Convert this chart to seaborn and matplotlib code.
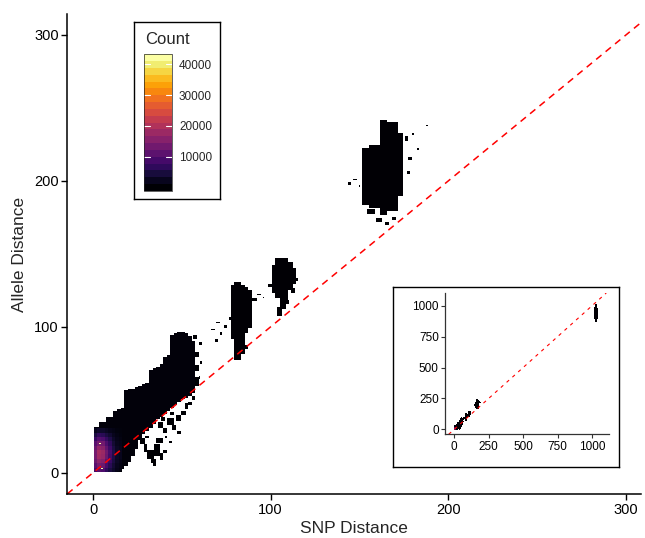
import numpy as np
import pandas as pd
import matplotlib
matplotlib.use("Agg")
import matplotlib.pyplot as plt
import seaborn as sns
from matplotlib.colors import ListedColormap, BoundaryNorm
from matplotlib.cm import ScalarMappable

# ── Data ─────────────────────────────────────────────────────────────────────
# Each cluster: column start, column end, lowest and highest allele distance
band_x0 = [1, 4, 8, 12, 14, 16, 18, 20, 22, 24, 26, 28, 30, 32, 34, 36, 38, 40, 42, 44, 46, 48, 50, 52, 54, 56]
band_x1 = [4, 8, 12, 14, 16, 18, 20, 22, 24, 26, 28, 30, 32, 34, 36, 38, 40, 42, 44, 46, 48, 50, 52, 54, 56, 58]
band_lo = [1, 1, 1, 1, 2, 3, 5, 8, 12, 17, 23, 27, 29, 31, 34, 37, 39, 41, 43, 45, 47, 49, 51, 52, 53, 55]
band_hi = [31, 34, 38, 42, 43, 44, 56, 57, 57, 58, 59, 60, 61, 70, 71, 72, 74, 79, 80, 94, 95, 96, 96, 95, 93, 90]

clB_x0 = [78, 80, 84, 86, 88]
clB_x1 = [80, 84, 86, 88, 90]
clB_lo = [92, 78, 82, 96, 100]
clB_hi = [128, 130, 128, 127, 125]

clC_x0 = [101, 103, 106, 110, 113]
clC_x1 = [103, 106, 110, 113, 115]
clC_lo = [124, 120, 118, 126, 130]
clC_hi = [142, 147, 147, 144, 140]

clD_x0 = [152, 156, 162, 166, 172]
clD_x1 = [156, 162, 166, 172, 175]
clD_lo = [184, 182, 177, 180, 190]
clD_hi = [222, 224, 241, 240, 232]

# far cluster, only visible in the inset
clE_x0 = [1018, 1024, 1030]
clE_x1 = [1024, 1030, 1036]
clE_lo = [900, 875, 905]
clE_hi = [990, 1015, 985]

# loose specks around the clusters: x, y, width, height
specks = [
    (27, 20, 3, 4), (29, 15, 2, 5), (31, 10, 4, 6), (33, 7, 3, 3), (35, 12, 3, 8),
    (38, 9, 2, 5), (36, 21, 4, 3), (40, 14, 2, 2), (30, 24, 2, 2), (34, 5, 2, 2),
    (37, 31, 3, 4), (40, 28, 2, 3), (42, 33, 4, 5), (45, 30, 2, 3), (47, 36, 3, 4),
    (50, 40, 3, 3), (52, 44, 2, 4), (44, 40, 2, 2), (39, 36, 2, 3), (54, 47, 2, 2),
    (48, 27, 2, 2), (56, 50, 2, 3), (41, 24, 1, 2), (43, 21, 2, 1),
    (58, 60, 2, 6), (58, 70, 2, 4), (58, 80, 2, 3), (60, 88, 2, 2), (57, 92, 2, 3),
    (60, 65, 1, 2), (61, 75, 1, 2),
    (67, 98, 2, 1), (70, 103, 2, 1), (72, 95, 1, 2), (74, 100, 2, 2), (69, 90, 2, 2),
    (90, 118, 3, 2), (93, 122, 2, 1), (96, 120, 1, 1), (86, 85, 2, 3), (77, 105, 1, 2),
    (104, 108, 3, 6), (106, 113, 3, 6), (109, 116, 2, 3), (112, 124, 2, 3),
    (99, 128, 2, 2), (114, 132, 2, 2),
    (144, 198, 2, 2), (147, 201, 2, 1), (150, 196, 1, 2), (176, 228, 2, 3),
    (178, 215, 2, 2), (180, 232, 1, 1), (183, 222, 1, 1), (188, 238, 1, 1),
    (177, 205, 2, 2), (160, 172, 3, 3), (165, 170, 2, 2), (169, 174, 2, 2),
    (155, 178, 4, 3),
]

band_count = 700
cluster_count = 300
speck_count = 150

# hot spot near the origin, counts per 2x3 block (rows: y from 1 upwards)
hot_x0 = [1, 3, 5, 7, 9, 11, 13, 15]
hot_y0 = [1, 4, 7, 10, 13, 16, 19, 22, 25, 28]
hot_counts = [
    [8000, 10000, 9000, 6000, 4000, 2500, 1200, 600],
    [10000, 13000, 12000, 8500, 5500, 3200, 1500, 800],
    [12000, 15500, 14500, 10500, 7000, 4000, 2000, 1200],
    [13000, 17500, 16500, 12000, 8000, 4500, 2200, 1500],
    [13000, 18000, 17000, 12500, 8500, 4600, 2200, 1500],
    [12000, 16000, 15000, 11000, 7500, 4000, 2000, 1300],
    [10000, 13000, 12500, 9000, 6000, 3200, 1600, 1000],
    [7000, 9500, 9000, 6500, 4500, 2400, 1200, 700],
    [4000, 6000, 5500, 4000, 2800, 1600, 800, 400],
    [1500, 2500, 2500, 1800, 1200, 800, 400, 200],
]
peak_x = [4, 5]
peak_y = [20, 3]
peak_count = [42100, 41000]

count_min, count_max = 1, 42100
cbar_ticks = [10000, 20000, 30000, 40000]


# ── Build the binned table ───────────────────────────────────────────────────
def columns(x0s, x1s, los, his, n):
    rows = []
    for x0, x1, lo, hi in zip(x0s, x1s, los, his):
        xs, ys = np.meshgrid(np.arange(x0, x1), np.arange(lo, hi + 1))
        rows.append(pd.DataFrame({"snp": xs.ravel(), "allele": ys.ravel(), "n": n}))
    return pd.concat(rows)


parts = [
    columns(band_x0, band_x1, band_lo, band_hi, band_count),
    columns(clB_x0, clB_x1, clB_lo, clB_hi, cluster_count),
    columns(clC_x0, clC_x1, clC_lo, clC_hi, cluster_count),
    columns(clD_x0, clD_x1, clD_lo, clD_hi, cluster_count),
]
for x, y, w, h in specks:
    parts.append(columns([x], [x + w], [y], [y + h - 1], speck_count))
for j, y0 in enumerate(hot_y0):
    for i, x0 in enumerate(hot_x0):
        parts.append(columns([x0], [x0 + 2], [y0], [y0 + 2], hot_counts[j][i]))
parts.append(pd.DataFrame({"snp": peak_x, "allele": peak_y, "n": peak_count}))
main_df = pd.concat(parts, ignore_index=True)

inset_df = pd.concat(
    [main_df, columns(clE_x0, clE_x1, clE_lo, clE_hi, cluster_count)],
    ignore_index=True,
)

# ── Plot ──────────────────────────────────────────────────────────────────────
sns.set_style("white")
plt.rcParams["font.family"] = ["Liberation Sans", "DejaVu Sans"]
inferno = plt.get_cmap("inferno")

fig = plt.figure(figsize=(6.45, 5.38), dpi=100)

ax = fig.add_axes([0.1043, 0.0812, 0.8895, 0.8928])
sns.histplot(main_df, x="snp", y="allele", weights="n", discrete=True,
             cmap=inferno, ax=ax)
ax.collections[0].set_clim(count_min, count_max)
ax.axline((0, 0), (1, 1), color="red", lw=1.1, ls=(0, (4.5, 3.5)))
ax.set_xlim(-14.5, 308.5)
ax.set_ylim(-14.8, 314.4)
ax.set_xticks([0, 100, 200, 300])
ax.set_yticks([0, 100, 200, 300])
sns.despine(ax=ax)
for s in ["left", "bottom"]:
    ax.spines[s].set_color("black")
    ax.spines[s].set_linewidth(1.1)
ax.tick_params(length=4, width=1, color="black", labelsize=10.5,
               labelcolor="black", pad=2, left=True, bottom=True)
ax.set_xlabel("SNP Distance", fontsize=12.5, labelpad=3)
ax.set_ylabel("Allele Distance", fontsize=12.5, labelpad=5)

# legend box with stepped colourbar
leg = fig.add_axes([0.2082, 0.6296, 0.1329, 0.329])
leg.set_xticks([])
leg.set_yticks([])
for s in leg.spines.values():
    s.set_color("black")
    s.set_linewidth(1)
leg.text(0.125, 0.903, "Count", transform=leg.transAxes, fontsize=12,
         va="center", ha="left")

nbin = 20
step = (count_max - count_min) / (nbin - 1)
bounds = count_min - step / 2 + step * np.arange(nbin + 1)
bar_cmap = ListedColormap(inferno(np.linspace(0, 1, nbin)))
sm = ScalarMappable(norm=BoundaryNorm(bounds, nbin), cmap=bar_cmap)
cax = fig.add_axes([0.2233, 0.645, 0.0434, 0.2541])
cbar = fig.colorbar(sm, cax=cax, ticks=cbar_ticks, spacing="proportional")
cbar.outline.set_linewidth(0.5)
cbar.outline.set_edgecolor("#222222")
cax.minorticks_off()
cax.tick_params(which="both", length=0, labelsize=8.5, pad=5)
for t in cbar_ticks:
    cax.plot([0, 0.2], [t, t], color="white", lw=0.8, transform=cax.get_yaxis_transform())
    cax.plot([0.8, 1], [t, t], color="white", lw=0.8, transform=cax.get_yaxis_transform())

# inset with the full range
frame = fig.add_axes([0.6098, 0.132, 0.3495, 0.334])
frame.set_xticks([])
frame.set_yticks([])
for s in frame.spines.values():
    s.set_color("black")
    s.set_linewidth(1)

axin = fig.add_axes([0.6899, 0.1928, 0.2543, 0.2626])
sns.histplot(inset_df, x="snp", y="allele", weights="n", discrete=True,
             cmap=inferno, ax=axin, edgecolor="face", linewidth=0.5)
axin.collections[0].set_clim(count_min, count_max)
axin.axline((0, 0), (1, 1), color="red", lw=0.8, ls=(0, (3, 4)))
axin.set_xlim(-67, 1123)
axin.set_ylim(-40, 1103)
axin.set_xticks([0, 250, 500, 750, 1000])
axin.set_yticks([0, 250, 500, 750, 1000])
axin.set_xlabel("")
axin.set_ylabel("")
sns.despine(ax=axin)
for s in ["left", "bottom"]:
    axin.spines[s].set_color("#333333")
    axin.spines[s].set_linewidth(0.9)
axin.tick_params(length=3, width=0.8, color="#333333", labelsize=8.5,
                 labelcolor="black", pad=1.5, left=True, bottom=True)

fig.savefig("out.png", dpi=100)
